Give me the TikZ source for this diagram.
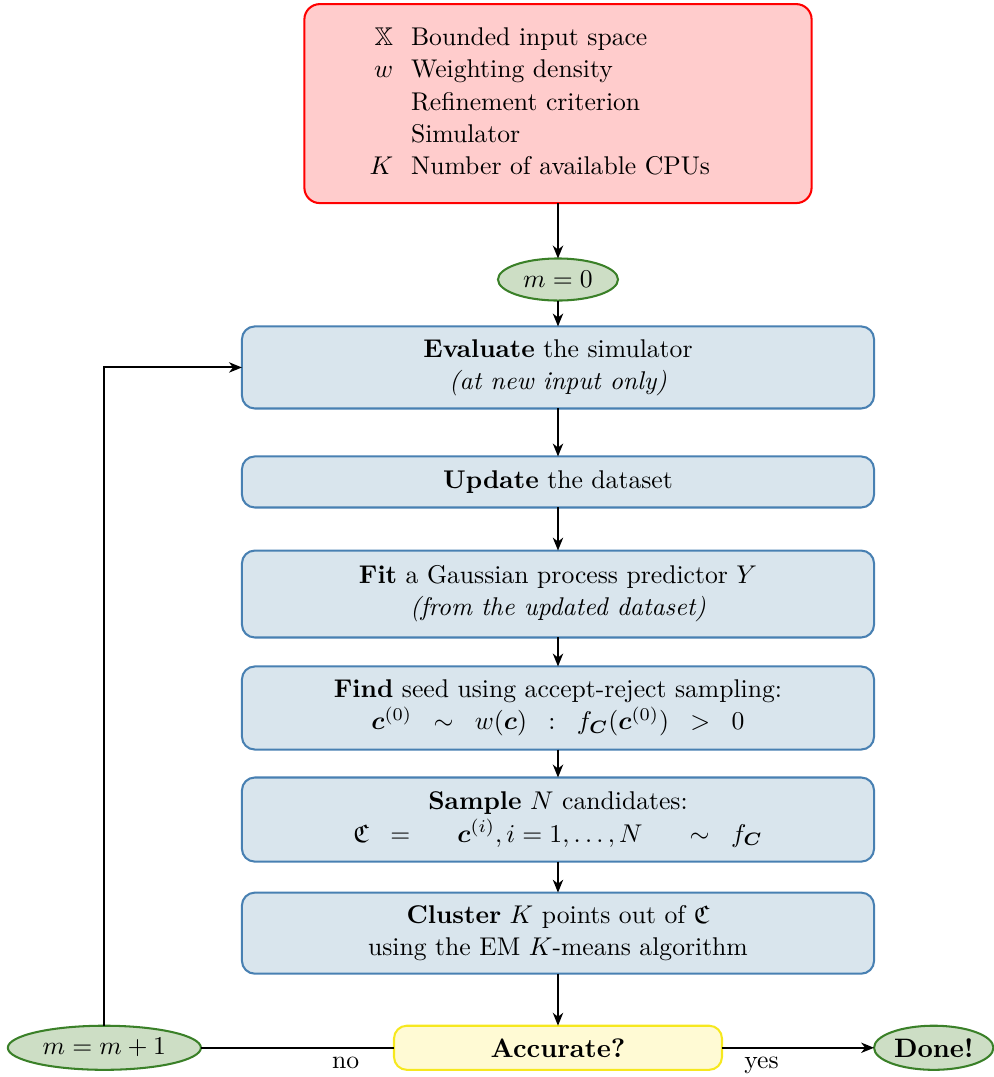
\documentclass[tikz,border=0pt]{standalone}
\usepackage{amsmath}
\usepackage{amssymb}
\usetikzlibrary{shapes.geometric, arrows.meta, positioning}
\definecolor{stepfill}{RGB}{217,229,237}
\definecolor{stepedge}{RGB}{72,128,178}
\definecolor{countfill}{RGB}{205,222,197}
\definecolor{countedge}{RGB}{58,128,40}
\definecolor{testfill}{RGB}{255,250,212}
\definecolor{testedge}{RGB}{246,232,30}
\definecolor{inputfill}{RGB}{255,204,204}
\tikzset{
    inbox/.style={draw=red, thick, fill=inputfill, rounded corners=6pt, outer sep=0pt, align=left, text width=147pt, inner xsep=25.4pt, minimum height=77.6pt, font=\fontsize{10}{12.5}\selectfont},
    stepbox/.style={draw=stepedge, thick, fill=stepfill, rounded corners=5pt, outer sep=0pt, align=center, minimum width=246.5pt, font=\fontsize{10}{12.5}\selectfont},
    counter/.style={ellipse, draw=countedge, thick, fill=countfill, outer sep=0pt, minimum height=17.2pt, inner sep=1pt, font=\fontsize{10.4}{12.5}\selectfont},
    testbox/.style={draw=testedge, thick, fill=testfill, rounded corners=5pt, outer sep=0pt, minimum width=127.9pt, minimum height=17.2pt, font=\fontsize{10.4}{12.5}\selectfont},
    arrow/.style={-{Stealth[length=5pt, width=4pt, inset=1.5pt]}, thick},
    plain/.style={thick}
}
\begin{document}
\begin{tikzpicture}
    \useasboundingbox (0,0) rectangle (387.3pt,-420pt);
    \node [inbox] (inputs) at (217.6pt,-40.4pt) {%
        \begin{tabular}{@{}r@{\hspace{7pt}}l@{}}
        $\mathbb{X}$ & Bounded input space \\
        $w$ & Weighting density \\
         & Refinement criterion \\
         & Simulator \\
        $K$ & Number of available CPUs
        \end{tabular}};
    \node [counter, minimum width=46.8pt, minimum height=16.4pt, below=21.6pt of inputs] (init) {$m=0$};
    \node [stepbox, minimum height=32pt, below=10.1pt of init] (evaluate) {\textbf{Evaluate} the simulator\\ \textit{(at new input only)}};
    \node [stepbox, minimum height=19.9pt, below=18.7pt of evaluate] (update) {\textbf{Update} the dataset};
    \node [stepbox, minimum height=33.9pt, below=16.8pt of update] (fit) {\textbf{Fit} a Gaussian process predictor $Y$\\ \textit{(from the updated dataset)}};
    \node [stepbox, minimum height=32.4pt, below=11.3pt of fit] (seed) {\textbf{Find} seed using accept-reject sampling:\\ $\boldsymbol{c}^{(0)} \;\;\sim\;\; w(\boldsymbol{c}) \;\;:\;\; f_{\boldsymbol{C}}(\boldsymbol{c}^{(0)}) \;\;>\;\; 0$};
    \node [stepbox, minimum height=32.8pt, below=10.9pt of seed] (sample) {\textbf{Sample} $N$ candidates:\\ $\mathfrak{C} \;\;=\;\; \quad \boldsymbol{c}^{(i)}, i=1,\ldots,N \quad\;\; \sim\;\; f_{\boldsymbol{C}}$};
    \node [stepbox, minimum height=31.6pt, below=12.1pt of sample] (cluster) {\textbf{Cluster} $K$ points out of $\mathfrak{C}$\\ using the EM $K$-means algorithm};
    \node [testbox, below=20.3pt of cluster] (accurate) {\textbf{Accurate?}};
    \node [counter, minimum width=75.3pt, left=75.3pt of accurate] (next) {$m=m+1$};
    \node [counter, minimum width=46.4pt, right=59.3pt of accurate] (done) {\textbf{Done!}};

    \draw [arrow] (inputs) -- (init);
    \draw [arrow] (init) -- (evaluate);
    \draw [arrow] (evaluate) -- (update);
    \draw [arrow] (update) -- (fit);
    \draw [arrow] (fit) -- (seed);
    \draw [arrow] (seed) -- (sample);
    \draw [arrow] (sample) -- (cluster);
    \draw [arrow] (cluster) -- (accurate);
    \draw [plain] (accurate) -- node [pos=0.25, below] {no} (next);
    \draw [arrow] (accurate) -- node [pos=0.26, below] {yes} (done);
    \draw [arrow] (next) |- (evaluate);
\end{tikzpicture}
\end{document}
